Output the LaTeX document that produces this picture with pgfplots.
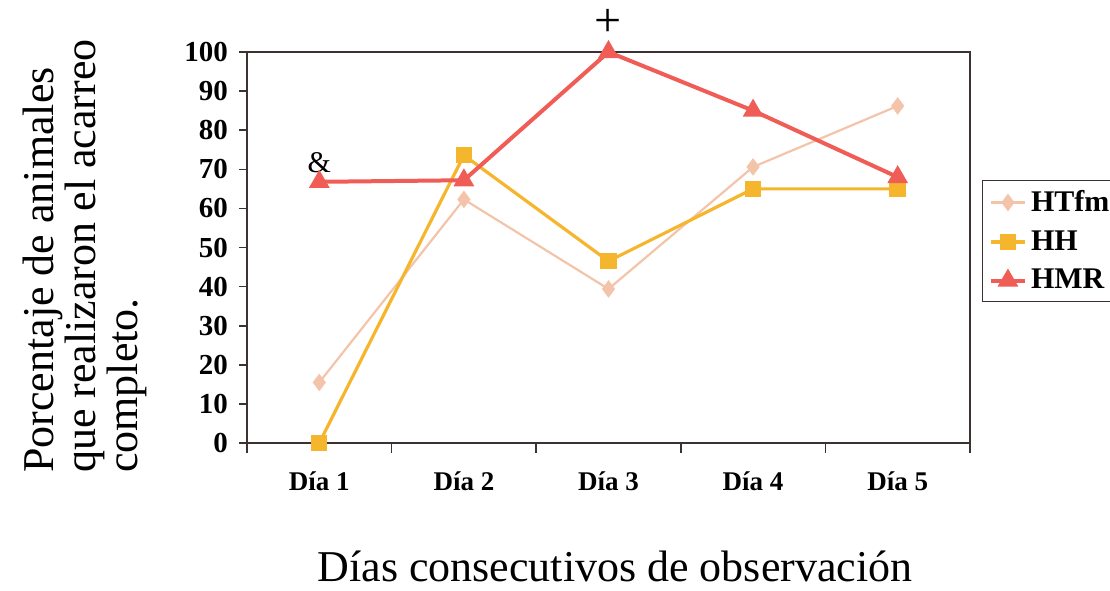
\documentclass[border=0pt]{standalone}
\usepackage{pgfplots}
\pgfplotsset{compat=1.18}
\usepackage{fontspec}
\setmainfont{Liberation Serif}
\definecolor{cHT}{RGB}{244,196,170}
\definecolor{cHH}{RGB}{245,182,45}
\definecolor{cHMR}{RGB}{240,92,86}
\definecolor{axc}{RGB}{60,50,50}
\begin{document}
\begin{tikzpicture}
\begin{axis}[
  name=ax,
  at={(0,0)}, anchor=south west,
  scale only axis, width=361.5pt, height=195.5pt,
  xmin=0.5, xmax=5.5, ymin=0, ymax=100,
  xtick={1,2,3,4,5},
  xticklabels={Día 1,Día 2,Día 3,Día 4,Día 5},
  minor xtick={0.5,1.5,2.5,3.5,4.5,5.5},
  major x tick style={draw=none},
  minor tick length=5pt,
  major tick length=4pt,
  ytick={0,10,...,100},
  tick align=outside,
  tick pos=left,
  axis line style={draw=axc, line width=0.8pt},
  tick style={draw=axc, line width=0.8pt},
  /pgf/number format/assume math mode=true,
  yticklabel style={font=\bfseries\fontsize{14.5}{16}\selectfont, xshift=-2pt},
  xticklabel style={font=\bfseries\fontsize{13.5}{15}\selectfont, yshift=-7pt},
  clip=false,
  legend style={at={(1.017,0.673)}, anchor=north west, draw=axc, line width=0.6pt,
    font=\bfseries\fontsize{15}{17}\selectfont, row sep=4pt, inner sep=3pt},
  legend cell align=left,
]
\addplot[cHT, line width=1.1pt, mark=diamond*, mark size=3.5pt, mark options={fill=cHT, draw=cHT}]
  coordinates {(1,15.5) (2,62.3) (3,39.4) (4,70.6) (5,86.2)};
\addlegendentry{HTfm}
\addplot[cHH, line width=1.6pt, mark=square*, mark size=3.3pt, mark options={fill=cHH, draw=cHH}]
  coordinates {(1,0) (2,73.6) (3,46.5) (4,65.0) (5,65.0)};
\addlegendentry{HH}
\addplot[cHMR, line width=2pt, mark=triangle*, mark size=4pt, mark options={fill=cHMR, draw=cHMR}]
  coordinates {(1,66.8) (2,67.2) (3,100) (4,85.0) (5,68.0)};
\addlegendentry{HMR}
\node[font=\fontsize{15}{16}\selectfont] at (axis cs:1,71.8) {\&};
\node[font=\fontsize{24}{26}\selectfont] at (axis cs:3,107.5) {+};
\end{axis}
\node[rotate=90, anchor=west, align=left, font=\fontsize{22}{21}\selectfont] at (-81pt,-18.5pt)
  {Porcentaje de animales\\que realizaron el acarreo\\completo.};
\node[font=\fontsize{22}{24}\selectfont] at (184pt,-61.5pt) {Días consecutivos de observación};
\pgfresetboundingbox
\path[use as bounding box] (-123.5pt,-73.5pt) rectangle (431.5pt,221.5pt);
\end{tikzpicture}
\end{document}
